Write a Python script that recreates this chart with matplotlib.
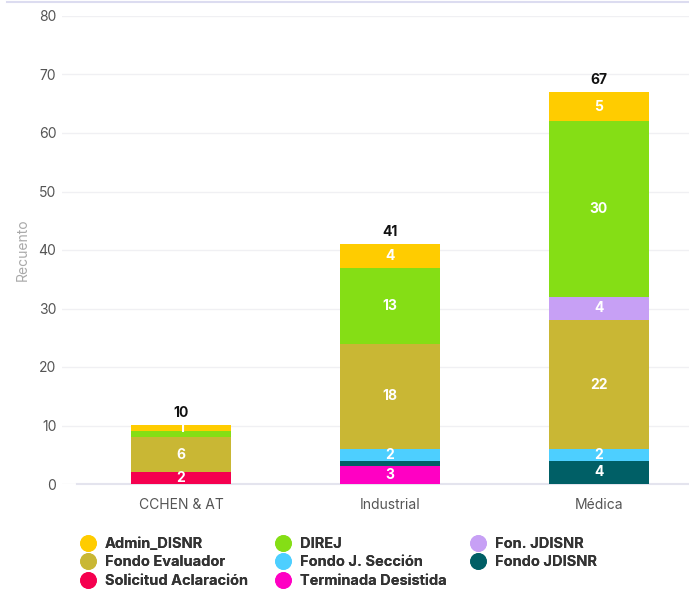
import numpy as np
import matplotlib.pyplot as plt
from matplotlib.lines import Line2D

plt.rcParams['font.family'] = ['Inter', 'DejaVu Sans']

categorias = ['CCHEN & AT', 'Industrial', 'Médica']

# series de abajo hacia arriba
series = ['Solicitud Aclaración', 'Terminada Desistida', 'Fondo JDISNR',
          'Fondo J. Sección', 'Fondo Evaluador', 'Fon. JDISNR', 'DIREJ', 'Admin_DISNR']
valores = {
    'Solicitud Aclaración': [2, 0, 0],
    'Terminada Desistida': [0, 3, 0],
    'Fondo JDISNR': [0, 1, 4],
    'Fondo J. Sección': [0, 2, 2],
    'Fondo Evaluador': [6, 18, 22],
    'Fon. JDISNR': [0, 0, 4],
    'DIREJ': [1, 13, 30],
    'Admin_DISNR': [1, 4, 5],
}
colores = {
    'Solicitud Aclaración': '#f5004f',
    'Terminada Desistida': '#ff00c3',
    'Fondo JDISNR': '#005f66',
    'Fondo J. Sección': '#4dcfff',
    'Fondo Evaluador': '#c9b734',
    'Fon. JDISNR': '#c7a0f5',
    'DIREJ': '#85de15',
    'Admin_DISNR': '#ffcc00',
}
# columnas de la leyenda
columnas_leyenda = [
    ['Admin_DISNR', 'Fondo Evaluador', 'Solicitud Aclaración'],
    ['DIREJ', 'Fondo J. Sección', 'Terminada Desistida'],
    ['Fon. JDISNR', 'Fondo JDISNR'],
]

fig = plt.figure(figsize=(6.89, 5.92), dpi=100)
ax = fig.add_axes([62/689, 1 - 484/592, 627/689, (484 - 16)/592])

x = np.arange(len(categorias))
ancho = 0.48
base = np.zeros(len(categorias))
for s in series:
    v = np.array(valores[s], dtype=float)
    ax.bar(x, v, ancho, bottom=base, color=colores[s], zorder=3)
    for i in range(len(categorias)):
        # las franjas de 1 que quedan muy finas no llevan etiqueta
        if v[i] >= 2 or (v[i] == 1 and s == 'Admin_DISNR'):
            ax.text(x[i], base[i] + v[i] / 2, f'{int(v[i])}', ha='center', va='center',
                    color='white', fontsize=10, fontweight='bold', zorder=4)
    base += v

for i, t in enumerate(base):
    ax.text(x[i], t + 0.9, f'{int(t)}', ha='center', va='bottom',
            fontsize=10, fontweight='bold', color='#111111')

ax.set_xlim(-0.5 - 14.5/209, 2.5 - 14.5/209)
ax.set_ylim(0, 80)
ax.set_yticks(range(0, 81, 10))
ax.set_xticks(x)
ax.set_xticklabels(categorias)
ax.tick_params(axis='both', length=0, labelsize=10, colors='#555555')
ax.tick_params(axis='y', pad=4)
ax.tick_params(axis='x', pad=10)
ax.grid(axis='y', color='#f0f0f3', linewidth=1, zorder=0)
for sp in ax.spines.values():
    sp.set_visible(False)
ax.plot([-0.5, 2.6], [0, 0], color='#e4e4ee', linewidth=1.5, zorder=2, clip_on=False)
ax.set_ylabel('Recuento', color='#aaaaaa', fontsize=10, labelpad=6)

x_columnas = [81, 276, 471]
for xc, nombres in zip(x_columnas, columnas_leyenda):
    manejadores = [Line2D([], [], marker='o', linestyle='', markersize=11,
                          markerfacecolor=colores[s], markeredgecolor=colores[s])
                   for s in nombres]
    leg = fig.legend(manejadores, nombres, ncol=1, loc='upper left',
                     bbox_to_anchor=(xc/689, 1 - 537/592), frameon=False,
                     prop={'family': 'Inter', 'weight': 'bold', 'size': 10.5},
                     labelcolor='#333333', handletextpad=0.68,
                     labelspacing=0.3, borderpad=0, borderaxespad=0,
                     handlelength=0.95)
    fig.add_artist(leg)

fig.add_artist(Line2D([7/689, 1], [1 - 2/592, 1 - 2/592], color='#dcdcf0', linewidth=1.5))

fig.savefig('out.png', dpi=100)
